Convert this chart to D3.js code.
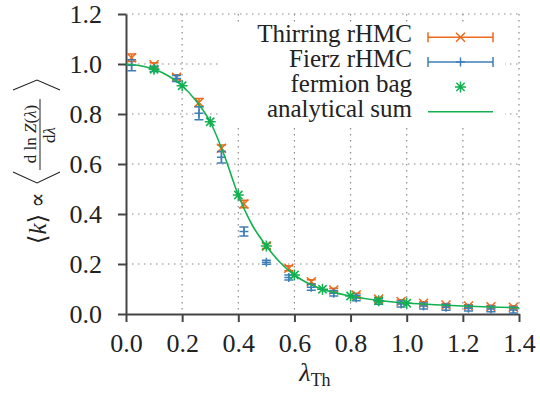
<!DOCTYPE html>
<html>
<head>
<meta charset="utf-8">
<script src="https://cdn.jsdelivr.net/npm/d3@7"></script>
<style>
  body { margin: 0; background: #fff; }
</style>
</head>
<body>
<svg id="chart"></svg>
<script>
// lambda values of the rHMC runs
const lamRun = [0.02, 0.1, 0.18, 0.26, 0.34, 0.42, 0.5, 0.58, 0.66, 0.74, 0.82, 0.9, 0.98, 1.06, 1.14, 1.22, 1.3, 1.38];
const thirring = [1.025, 0.997, 0.947, 0.846, 0.663, 0.44, 0.272, 0.183, 0.129, 0.096, 0.076, 0.06, 0.05, 0.043, 0.036, 0.032, 0.029, 0.027];
const thirringErr = [0.015, 0.008, 0.01, 0.016, 0.013, 0.015, 0.01, 0.01, 0.008, 0.007, 0.007, 0.006, 0.006, 0.006, 0.005, 0.005, 0.005, 0.005];
const fierz = [0.995, 0.98, 0.942, 0.803, 0.627, 0.33, 0.207, 0.146, 0.107, 0.083, 0.064, 0.05, 0.04, 0.032, 0.027, 0.023, 0.02, 0.016];
const fierzErr = [0.022, 0.01, 0.012, 0.026, 0.023, 0.018, 0.008, 0.01, 0.012, 0.011, 0.011, 0.011, 0.012, 0.012, 0.012, 0.011, 0.011, 0.012];

// fermion bag points
const lamBag = [0.1, 0.2, 0.3, 0.4, 0.5, 0.6, 0.7, 0.8, 0.9, 1.0];
const bag = [0.979, 0.913, 0.769, 0.476, 0.272, 0.156, 0.099, 0.072, 0.053, 0.043];

// analytical sum
const lamSum = [0, 0.05, 0.1, 0.15, 0.2, 0.25, 0.3, 0.35, 0.4, 0.45, 0.5, 0.55, 0.6, 0.65, 0.7, 0.8, 0.9, 1.0, 1.1, 1.2, 1.3, 1.4];
const sum = [1.0, 0.993, 0.979, 0.953, 0.913, 0.852, 0.769, 0.635, 0.476, 0.355, 0.272, 0.205, 0.156, 0.122, 0.099, 0.072, 0.054, 0.044, 0.037, 0.032, 0.028, 0.025];

const xTicks = [0, 0.2, 0.4, 0.6, 0.8, 1.0, 1.2, 1.4];
const yTicks = [0, 0.2, 0.4, 0.6, 0.8, 1.0, 1.2];

const legendNames = ["Thirring rHMC", "Fierz rHMC", "fermion bag", "analytical sum"];

const colOrange = "#ec6a1c", colBlue = "#3f7fb9", colGreen = "#12b050";
const serif = "Liberation Serif, Times New Roman, DejaVu Serif, serif";

const W = 540, H = 401;
const margin = { top: 14, left: 126, right: 21, bottom: 87 };
const width = W - margin.left - margin.right;
const height = H - margin.top - margin.bottom;

const svg = d3.select("#chart").attr("width", W).attr("height", H)
  .attr("font-family", serif);
const chart = svg.append("g").attr("transform", `translate(${margin.left},${margin.top})`);

const x = d3.scaleLinear().domain([0, 1.4]).range([0, width]);
const y = d3.scaleLinear().domain([0, 1.2]).range([height, 0]);

// dotted grid
chart.selectAll(".gx").data(xTicks.slice(1)).join("line")
  .attr("x1", d => x(d)).attr("x2", d => x(d)).attr("y1", 0).attr("y2", height)
  .attr("stroke", "#8a8a8a").attr("stroke-width", 1.2).attr("stroke-dasharray", "1.5,4.5");
chart.selectAll(".gy").data(yTicks.slice(1)).join("line")
  .attr("x1", 0).attr("x2", width).attr("y1", d => y(d)).attr("y2", d => y(d))
  .attr("stroke", "#8a8a8a").attr("stroke-width", 1.2).attr("stroke-dasharray", "1.5,4.5");

// legend background hides the grid
svg.append("rect").attr("x", 221).attr("y", 23).attr("width", 284).attr("height", 102).attr("fill", "#fff");

// axes
const fmt = d3.format(".1f");
const xAxis = chart.append("g").attr("transform", `translate(0,${height})`)
  .call(d3.axisBottom(x).tickValues(xTicks).tickFormat(fmt).tickSize(8).tickSizeOuter(0).tickPadding(12));
const yAxis = chart.append("g")
  .call(d3.axisLeft(y).tickValues(yTicks).tickFormat(fmt).tickSize(8).tickSizeOuter(0).tickPadding(16));
[xAxis, yAxis].forEach(a => {
  a.attr("font-family", serif).attr("font-size", 26);
  a.select(".domain").attr("stroke", "#444").attr("stroke-width", 2);
  a.selectAll(".tick line").attr("stroke", "#444").attr("stroke-width", 2);
  a.selectAll(".tick text").attr("fill", "#222");
});

// marker shapes
function markX(s) { return `M${-s},${-s}L${s},${s}M${-s},${s}L${s},${-s}`; }
function markPlus(s) { return `M${-s},0L${s},0M0,${-s}L0,${s}`; }
function markStar(s) { return markX(s * 0.75) + markPlus(s); }

function errSeries(vals, errs, color, shape) {
  const g = chart.append("g").attr("stroke", color).attr("fill", "none").attr("stroke-width", 1.5);
  const cap = 4.5;
  g.selectAll("path.err").data(vals).join("path").attr("class", "err")
    .attr("d", (d, i) => {
      const px = x(lamRun[i]), lo = y(d - errs[i]), hi = y(d + errs[i]);
      return `M${px},${lo}L${px},${hi}M${px - cap},${lo}L${px + cap},${lo}M${px - cap},${hi}L${px + cap},${hi}`;
    });
  g.selectAll("path.pt").data(vals).join("path").attr("class", "pt")
    .attr("transform", (d, i) => `translate(${x(lamRun[i])},${y(d)})`)
    .attr("d", shape);
}

errSeries(thirring, thirringErr, colOrange, markX(4.5));
errSeries(fierz, fierzErr, colBlue, markPlus(4.5));

chart.append("g").attr("stroke", colGreen).attr("stroke-width", 1.5).attr("fill", "none")
  .selectAll("path").data(bag).join("path")
  .attr("transform", (d, i) => `translate(${x(lamBag[i])},${y(d)})`)
  .attr("d", markStar(5.5));

chart.append("path")
  .datum(sum)
  .attr("fill", "none").attr("stroke", colGreen).attr("stroke-width", 1.6)
  .attr("d", d3.line().x((d, i) => x(lamSum[i])).y(d => y(d)).curve(d3.curveMonotoneX));

// legend
const legX0 = 428, legX1 = 493, legXm = 460.5;
const legRow = i => 37.3 + i * 24.8;
const leg = svg.append("g").attr("fill", "#222");
leg.selectAll("text").data(legendNames).join("text")
  .attr("x", 412).attr("y", (d, i) => legRow(i) + 5)
  .attr("text-anchor", "end").attr("font-size", 25).text(d => d);

[[colOrange, markX(4.5)], [colBlue, markPlus(4.5)]].forEach(([c, shape], i) => {
  const ry = legRow(i);
  leg.append("path").attr("stroke", c).attr("stroke-width", 1.5).attr("fill", "none")
    .attr("d", `M${legX0},${ry}L${legX1},${ry}M${legX0},${ry - 5}L${legX0},${ry + 5}M${legX1},${ry - 5}L${legX1},${ry + 5}`);
  leg.append("path").attr("stroke", c).attr("stroke-width", 1.5).attr("fill", "none")
    .attr("transform", `translate(${legXm},${ry})`).attr("d", shape);
});
leg.append("path").attr("stroke", colGreen).attr("stroke-width", 1.5).attr("fill", "none")
  .attr("transform", `translate(${legXm},${legRow(2)})`).attr("d", markStar(5.5));
leg.append("line").attr("x1", legX0).attr("x2", legX1).attr("y1", legRow(3)).attr("y2", legRow(3))
  .attr("stroke", colGreen).attr("stroke-width", 1.6);

// x label
const xl = svg.append("text").attr("x", 315).attr("y", 381).attr("text-anchor", "middle").attr("fill", "#222");
xl.append("tspan").attr("font-size", 26).attr("font-style", "italic").text("λ");
xl.append("tspan").attr("font-size", 18).attr("dy", 5).text("Th");

// y label (rotated pieces)
const yl = svg.append("g").attr("fill", "#222");
function rot(cx, cy) { return `translate(${cx},${cy}) rotate(-90)`; }
const k = yl.append("text").attr("transform", rot(46, 229)).attr("text-anchor", "middle").attr("font-size", 25);
k.append("tspan").text("⟨");
k.append("tspan").attr("font-style", "italic").text("k");
k.append("tspan").text("⟩");
yl.append("text").attr("transform", rot(45, 200)).attr("text-anchor", "middle").attr("font-size", 23).text("∝");
const num = yl.append("text").attr("transform", rot(36, 134)).attr("text-anchor", "middle").attr("font-size", 17);
num.append("tspan").text("d ln ");
num.append("tspan").attr("font-style", "italic").text("Z");
num.append("tspan").text("(");
num.append("tspan").attr("font-style", "italic").text("λ");
num.append("tspan").text(")");
const den = yl.append("text").attr("transform", rot(55, 135)).attr("text-anchor", "middle").attr("font-size", 17);
den.append("tspan").text("d");
den.append("tspan").attr("font-style", "italic").text("λ");
yl.append("line").attr("x1", 40).attr("x2", 40).attr("y1", 99).attr("y2", 170).attr("stroke", "#222").attr("stroke-width", 1);
yl.append("path").attr("fill", "none").attr("stroke", "#222").attr("stroke-width", 1.1)
  .attr("d", "M13,90L37,80L60,90M13,172L37,183L60,172");
</script>
</body>
</html>
